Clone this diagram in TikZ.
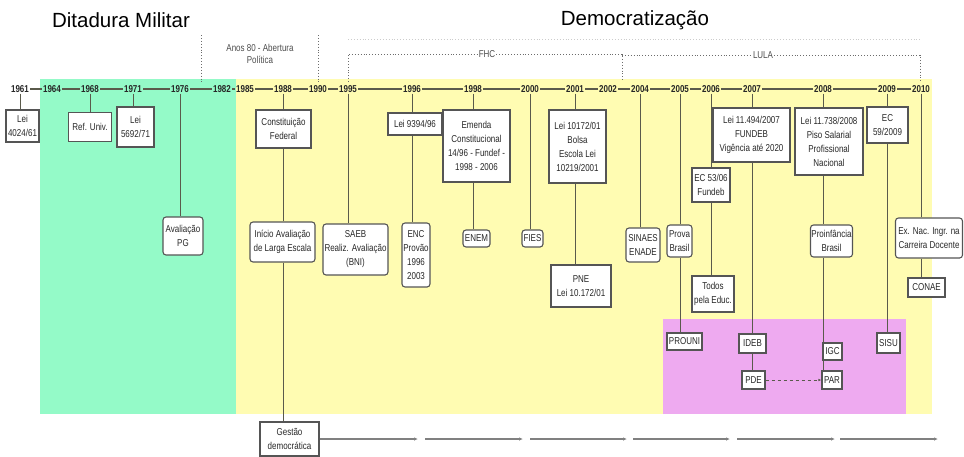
\documentclass[tikz,border=0pt]{standalone}
\usepackage{fontspec}
\setmainfont{Liberation Sans}
\newfontfamily\narrowfont[FakeStretch=0.8]{Liberation Sans}
\usetikzlibrary{arrows.meta}

\definecolor{ditgreen}{RGB}{148,250,200}
\definecolor{demyellow}{RGB}{255,252,178}
\definecolor{lulapink}{RGB}{238,170,240}
\definecolor{linegray}{RGB}{90,90,75}
\definecolor{boxgray}{RGB}{85,85,85}
\definecolor{txtgray}{RGB}{40,40,40}

\tikzstyle{evbox} = [draw=boxgray, line width=1.1pt, fill=white, align=center, inner sep=1pt, text=txtgray, font=\narrowfont\fontsize{10}{14}\selectfont]
\tikzstyle{evround} = [evbox, rounded corners=3pt]
\tikzstyle{yearlbl} = [inner sep=1pt, font=\narrowfont\bfseries\fontsize{10}{11}\selectfont, text=black!85]
\tikzstyle{timeline} = [draw=linegray, line width=1.4pt]
\tikzstyle{stem} = [draw=linegray, line width=0.9pt]
\tikzstyle{bracket} = [draw=gray!85!black, line width=0.9pt, dotted]
\tikzstyle{govlbl} = [text=gray!60!black, inner sep=1pt, font=\narrowfont\fontsize{10}{11}\selectfont]
\tikzstyle{garrow} = [draw=gray, line width=1.2pt, -{Latex[length=4pt,width=3.5pt]}]

\begin{document}
\begin{tikzpicture}[x=1pt, y=-1pt]
  \useasboundingbox (0,0) rectangle (964,456);

  % periods
  \fill[ditgreen] (40,79) rectangle (236,414);
  \fill[demyellow] (236,79) rectangle (932,414);
  \fill[lulapink] (663,319) rectangle (906,414);

  \node[font=\fontsize{20.5}{24}\selectfont] (ditadura) at (121,20) {Ditadura Militar};
  \node[font=\fontsize{20.5}{24}\selectfont] (democ) at (635,20) {Democratização};

  % abertura and governments
  \coordinate (ab1top) at (201,35);
  \coordinate (ab1bot) at (201,82);
  \coordinate (ab2top) at (318,35);
  \coordinate (ab2bot) at (318,82);
  \draw[bracket] (ab1top) -- (ab1bot);
  \draw[bracket] (ab2top) -- (ab2bot);
  \node[align=center, text=gray!60!black, font=\narrowfont\fontsize{10}{12}\selectfont] (abertura) at (260,54) {Anos 80 - Abertura\\Política};

  \coordinate (fhcL) at (348,82);
  \coordinate (fhcR) at (622,82);
  \coordinate (lulaR) at (920,82);
  \coordinate (shadL) at (348,39);
  \coordinate (shadR) at (920,39);
  \draw[bracket, draw=gray!40] (shadL) -- (shadR);
  \node[govlbl] (fhc) at (487,54) {FHC};
  \node[govlbl] (lula) at (763,55) {LULA};
  \draw[bracket] (fhcL) |- (fhc.west);
  \draw[bracket] (fhc.east) -| (fhcR);
  \draw[bracket] (fhcR |- lula.west) -- (lula.west);
  \draw[bracket] (lula.east) -| (lulaR);

  % time line
  \foreach \yr/\xx in {1961/20, 1964/52, 1968/90, 1971/133, 1976/180, 1982/222, 1985/245, 1988/283, 1990/318, 1995/348, 1996/412, 1998/473, 2000/530, 2001/575, 2002/608, 2004/640, 2005/680, 2006/711, 2007/752, 2008/823, 2009/887, 2010/921}
    \node[yearlbl] (y\yr) at (\xx,89) {\yr};
  \foreach \a/\b in {1961/1964, 1964/1968, 1968/1971, 1971/1976, 1976/1982, 1982/1985, 1985/1988, 1988/1990, 1990/1995, 1995/1996, 1996/1998, 1998/2000, 2000/2001, 2001/2002, 2002/2004, 2004/2005, 2005/2006, 2006/2007, 2007/2008, 2008/2009, 2009/2010}
    \draw[timeline] (y\a) -- (y\b);

  % events
  \node[evbox, minimum width=33pt, minimum height=32pt] (lei61) at (22.5,126) {Lei\\4024/61};
  \node[evbox, minimum width=43pt, minimum height=29pt] (refuniv) at (90,127) {Ref. Univ.};
  \node[evbox, minimum width=37pt, minimum height=40pt] (lei71) at (135.5,127) {Lei\\5692/71};
  \node[evround, minimum width=40pt, minimum height=38pt] (avalpg) at (183,236) {Avaliação\\PG};
  \node[evbox, minimum width=55pt, minimum height=38pt] (constfed) at (283.5,129) {Constituição\\Federal};
  \node[evround, minimum width=65pt, minimum height=40pt] (larga) at (282.5,242) {Início Avaliação\\de Larga Escala};
  \node[evbox, minimum width=59pt, minimum height=34pt] (gestao) at (289.5,439) {Gestão\\democrática};
  \node[evround, minimum width=65pt, minimum height=51pt] (saeb) at (355.5,249.5) {SAEB\\Realiz. Avaliação\\(BNI)};
  \node[evbox, minimum width=54pt, minimum height=22pt] (lei96) at (415,124) {Lei 9394/96};
  \node[evround, minimum width=28pt, minimum height=64pt] (enc) at (416,255) {ENC\\Provão\\1996\\2003};
  \node[evbox, minimum width=67pt, minimum height=72pt] (emenda) at (476.5,146) {Emenda\\Constitucional\\14/96 - Fundef -\\1998 - 2006};
  \node[evround, minimum width=27pt, minimum height=17pt] (enem) at (476.5,238.5) {ENEM};
  \node[evround, minimum width=21pt, minimum height=17pt] (fies) at (532.5,238.5) {FIES};
  \node[evbox, minimum width=57pt, minimum height=73pt] (bolsa) at (577.5,146.5) {Lei 10172/01\\Bolsa\\Escola Lei\\10219/2001};
  \node[evbox, minimum width=60pt, minimum height=42pt] (pne) at (581,286) {PNE\\Lei 10.172/01};
  \node[evround, minimum width=34pt, minimum height=34pt] (sinaes) at (643,245) {SINAES\\ENADE};
  \node[evround, minimum width=25pt, minimum height=32pt] (prova) at (679.5,241) {Prova\\Brasil};
  \node[evbox, minimum width=35pt, minimum height=17pt] (prouni) at (684.5,341.5) {PROUNI};
  \node[evbox, minimum width=38pt, minimum height=34pt] (ec53) at (711,185) {EC 53/06\\Fundeb};
  \node[evbox, minimum width=42pt, minimum height=36pt] (todos) at (713,294) {Todos\\pela Educ.};
  \node[evbox, minimum width=77pt, minimum height=54pt] (lei07) at (751.5,135) {Lei 11.494/2007\\FUNDEB\\Vigência até 2020};
  \node[evbox, minimum width=27pt, minimum height=19pt] (ideb) at (752.5,343.5) {IDEB};
  \node[evbox, minimum width=23pt, minimum height=18pt] (pde) at (753.5,380) {PDE};
  \node[evbox, minimum width=68pt, minimum height=67pt] (lei08) at (829,141.5) {Lei 11.738/2008\\Piso Salarial\\Profissional\\Nacional};
  \node[evround, minimum width=37pt, minimum height=32pt] (proinf) at (831.5,241) {Proinfância\\Brasil};
  \node[evbox, minimum width=19pt, minimum height=17pt] (igc) at (832.5,351.5) {IGC};
  \node[evbox, minimum width=20pt, minimum height=18pt] (par) at (832,380) {PAR};
  \node[evbox, minimum width=41pt, minimum height=36pt] (ec59) at (887.5,125) {EC\\59/2009};
  \node[evbox, minimum width=23pt, minimum height=20pt] (sisu) at (888.5,343) {SISU};
  \node[evround, minimum width=67pt, minimum height=40pt] (exnac) at (929,238) {Ex. Nac. Ingr. na\\Carreira Docente};
  \node[evbox, minimum width=37pt, minimum height=19pt] (conae) at (926.5,287.5) {CONAE};

  % stems
  \draw[stem] (y1961) -- (y1961 |- lei61.north);
  \draw[stem] (y1968) -- (y1968 |- refuniv.north);
  \draw[stem] (y1971) -- (y1971 |- lei71.north);
  \draw[stem] (y1976) -- (y1976 |- avalpg.north);
  \draw[stem] (y1988) -- (y1988 |- constfed.north);
  \draw[stem] (y1988 |- constfed.south) -- (y1988 |- larga.north);
  \draw[stem] (y1988 |- larga.south) -- (y1988 |- gestao.north);
  \draw[stem] (y1995) -- (y1995 |- saeb.north);
  \draw[stem] (y1996) -- (y1996 |- lei96.north);
  \draw[stem] (y1996 |- lei96.south) -- (y1996 |- enc.north);
  \draw[stem] (y1998) -- (y1998 |- emenda.north);
  \draw[stem] (y1998 |- emenda.south) -- (y1998 |- enem.north);
  \draw[stem] (y2000) -- (y2000 |- fies.north);
  \draw[stem] (y2001) -- (y2001 |- bolsa.north);
  \draw[stem] (y2001 |- bolsa.south) -- (y2001 |- pne.north);
  \draw[stem] (y2004) -- (y2004 |- sinaes.north);
  \draw[stem] (y2005) -- (y2005 |- prova.north);
  \draw[stem] (y2005 |- prova.south) -- (y2005 |- prouni.north);
  \draw[stem] (y2006) -- (y2006 |- ec53.north);
  \draw[stem] (y2006 |- ec53.south) -- (y2006 |- todos.north);
  \draw[stem] (y2007) -- (y2007 |- lei07.north);
  \draw[stem] (y2007 |- lei07.south) -- (y2007 |- ideb.north);
  \draw[stem] (y2007 |- ideb.south) -- (y2007 |- pde.north);
  \draw[stem] (y2008) -- (y2008 |- lei08.north);
  \draw[stem] (y2008 |- lei08.south) -- (y2008 |- proinf.north);
  \draw[stem] (y2008 |- proinf.south) -- (y2008 |- igc.north);
  \draw[stem] (y2008 |- igc.south) -- (y2008 |- par.north);
  \draw[stem] (y2009) -- (y2009 |- ec59.north);
  \draw[stem] (y2009 |- ec59.south) -- (y2009 |- sisu.north);
  \draw[stem] (y2010) -- (y2010 |- exnac.north);
  \draw[stem] (y2010 |- exnac.south) -- (y2010 |- conae.north);

  \draw[stem, dashed, -{Latex[length=3pt,width=2.5pt]}] (pde) -- (par);

  % gestao democratica
  \coordinate (e1) at (418,439);
  \foreach \s/\e [count=\i] in {425/523, 530/627, 633/730, 737/835, 840/938} {
    \coordinate (gs\i) at (\s,439);
    \coordinate (ge\i) at (\e,439);
  }
  \draw[garrow] (gestao) -- (e1);
  \foreach \i in {1,...,5}
    \draw[garrow] (gs\i) -- (ge\i);
\end{tikzpicture}
\end{document}
